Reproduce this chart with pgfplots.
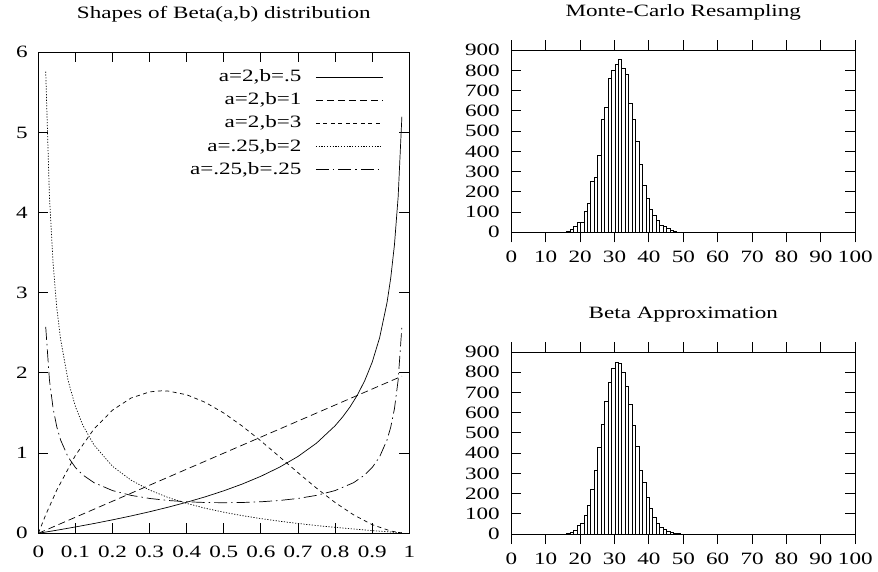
\documentclass[border=0pt]{standalone}
\usepackage{fontspec}
\setmainfont{Liberation Serif}[FakeStretch=1.335]
\usepackage{pgfplots}
\pgfplotsset{compat=1.18}
\newcommand\gpfont{\fontsize{17.3bp}{20bp}\selectfont}
\pgfplotsset{
  gp/.style={
    scale only axis, axis on top,
    axis line style={line width=1bp},
    tick pos=both, tick align=inside, major tick length=10bp,
    tick style={line width=1bp, black},
    every tick label/.append style={font=\gpfont},
    /pgf/number format/assume math mode=true,
    title style={font=\gpfont, at={(0.5,1)}, anchor=base, yshift=28bp},
  },
  hist/.style={gp, width=344bp, height=182bp,
    xmin=0, xmax=100, xtick={0,10,...,100},
    ymin=0, ymax=900, ytick={0,100,...,900},
    xticklabel style={yshift=-5bp}, yticklabel style={xshift=-8bp},
    ybar, bar width=1, bar shift=0pt,
  },
  bars/.style={draw=black, fill=white, line width=.6bp},
  curve/.style={black, line width=.7bp},
}

\begin{document}
\begin{tikzpicture}
\useasboundingbox (0,0) rectangle (878bp,572bp);

% left: beta densities
\begin{axis}[gp, at={(38.3bp,38.7bp)}, anchor=south west,
  width=371bp, height=481bp,
  xmin=0, xmax=1, ymin=0, ymax=6,
  xtick={0,0.1,0.2,0.3,0.4,0.5,0.6,0.7,0.8,0.9,1},
  xticklabels={0,0.1,0.2,0.3,0.4,0.5,0.6,0.7,0.8,0.9,1},
  ytick={0,...,6},
  xticklabel style={yshift=-9bp}, yticklabel style={xshift=-7bp},
  title={Shapes of Beta(a,b) distribution},
  legend plot pos=right, legend cell align=right,
  legend image code/.code={\draw[#1] (0bp,0bp) -- (67bp,0bp);},
  legend style={draw=none, fill=none, font=\gpfont,
    at={(1,1)}, anchor=north east, xshift=-26bp, yshift=-16bp,
    inner sep=0pt, row sep=6.2bp, column sep=13bp,
    nodes={inner sep=1bp, text height=12bp, text depth=3bp}},
]
\addplot[curve] coordinates {(0,0) (0.05,0.0385) (0.1,0.0791) (0.15,0.1220) (0.2,0.1677) (0.25,0.2165) (0.3,0.2689) (0.35,0.3256) (0.4,0.3873) (0.45,0.4551) (0.5,0.5303) (0.55,0.6149) (0.6,0.7115) (0.65,0.8240) (0.7,0.9585) (0.75,1.125) (0.8,1.3416) (0.82,1.4496) (0.84,1.575) (0.86,1.7238) (0.88,1.9053) (0.9,2.1345) (0.92,2.4395) (0.94,2.8782) (0.95,3.1864) (0.96,3.6) (0.97,4.2002) (0.98,5.1972)};
\addlegendentry{a=2,b=.5}
\addplot[curve, dash pattern=on 7bp off 4bp] coordinates {(0,0) (0.98,1.96)};
\addlegendentry{a=2,b=1}
\addplot[curve, dash pattern=on 4bp off 3.5bp] coordinates {(0,0) (0.02,0.2305) (0.05,0.5415) (0.1,0.972) (0.15,1.3005) (0.2,1.536) (0.25,1.6875) (0.3,1.764) (0.333,1.7778) (0.35,1.7745) (0.4,1.728) (0.45,1.6335) (0.5,1.5) (0.55,1.3365) (0.6,1.152) (0.65,0.9555) (0.7,0.756) (0.75,0.5625) (0.8,0.384) (0.85,0.2295) (0.9,0.108) (0.95,0.0285) (0.98,0.0047)};
\addlegendentry{a=2,b=3}
\addplot[curve, dash pattern=on 1.2bp off 1.6bp] coordinates {(0.02,5.7584) (0.03,4.2050) (0.04,3.3541) (0.05,2.8077) (0.06,2.4231) (0.08,1.9113) (0.1,1.5816) (0.12,1.3489) (0.15,1.1022) (0.2,0.8359) (0.25,0.6629) (0.3,0.5396) (0.35,0.4464) (0.4,0.3728) (0.45,0.3128) (0.5,0.2628) (0.55,0.2202) (0.6,0.1834) (0.65,0.1511) (0.7,0.1225) (0.75,0.0969) (0.8,0.0739) (0.85,0.0530) (0.9,0.0338) (0.95,0.0162) (0.98,0.0063)};
\addlegendentry{a=.25,b=2}
\addplot[curve, dash pattern=on 13bp off 4bp on 1.5bp off 4bp] coordinates {(0.02,2.5741) (0.03,1.9138) (0.04,1.5545) (0.05,1.3252) (0.06,1.1650) (0.08,0.9542) (0.1,0.8206) (0.12,0.7279) (0.15,0.6319) (0.2,0.5330) (0.25,0.4732) (0.3,0.4347) (0.35,0.4093) (0.4,0.3932) (0.45,0.3843) (0.5,0.3814) (0.55,0.3843) (0.6,0.3932) (0.65,0.4093) (0.7,0.4347) (0.75,0.4732) (0.8,0.5330) (0.85,0.6319) (0.88,0.7279) (0.9,0.8206) (0.92,0.9542) (0.94,1.1650) (0.95,1.3252) (0.96,1.5545) (0.97,1.9138) (0.98,2.5741)};
\addlegendentry{a=.25,b=.25}
\end{axis}

% top right: resampled counts
\begin{axis}[hist, at={(511.3bp,339.7bp)}, anchor=south west,
  title={Monte-Carlo Resampling}]
\addplot[bars] coordinates {(16.6,6) (17.6,15) (18.6,28) (19.6,48) (20.6,48) (21.6,102) (22.6,143) (23.6,250) (24.6,272) (25.6,382) (26.6,559) (27.6,620) (28.6,760) (29.6,801) (30.6,831) (31.6,854) (32.6,810) (33.6,780) (34.6,637) (35.6,559) (36.6,448) (37.6,337) (38.6,234) (39.6,168) (40.6,114) (41.6,82) (42.6,58) (43.6,36) (44.6,28) (45.6,18) (46.6,8) (47.6,3)};
\end{axis}

% bottom right: beta approximation
\begin{axis}[hist, at={(511.3bp,38bp)}, anchor=south west,
  title={Beta Approximation}]
\addplot[bars] coordinates {(16.6,3) (17.6,8) (18.6,16) (19.6,41) (20.6,53) (21.6,94) (22.6,144) (23.6,223) (24.6,317) (25.6,428) (26.6,543) (27.6,656) (28.6,750) (29.6,817) (30.6,849) (31.6,845) (32.6,800) (33.6,729) (34.6,639) (35.6,540) (36.6,433) (37.6,317) (38.6,254) (39.6,180) (40.6,127) (41.6,81) (42.6,53) (43.6,33) (44.6,23) (45.6,15) (46.6,8) (47.6,3) (48.6,2)};
\end{axis}
\end{tikzpicture}
\end{document}
